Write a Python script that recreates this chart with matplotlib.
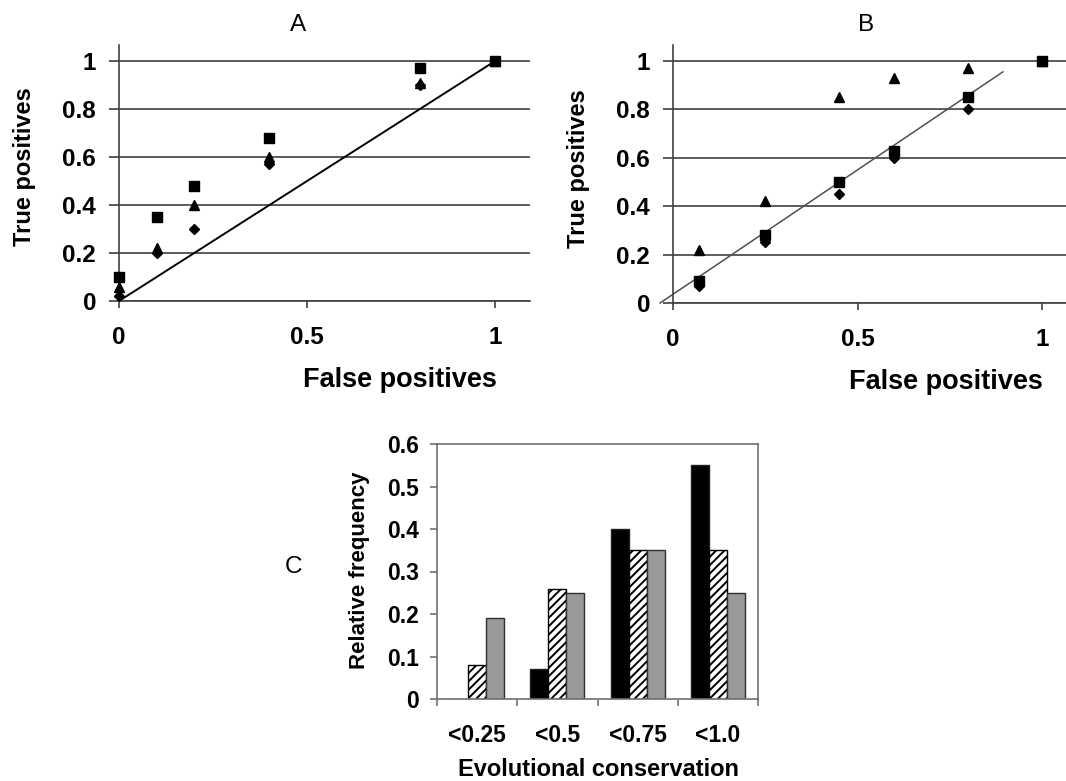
import matplotlib.pyplot as plt
from matplotlib.ticker import FixedLocator, NullFormatter

plt.rcParams['font.family'] = ['Liberation Sans', 'DejaVu Sans']
plt.rcParams['hatch.linewidth'] = 1.4

# Panel A: ROC-like points
a_fp = [0, 0.1, 0.2, 0.4, 0.8, 1.0]
a_square = [0.10, 0.35, 0.48, 0.68, 0.97, 1.0]
a_triangle = [0.06, 0.22, 0.40, 0.60, 0.91, 1.0]
a_diamond = [0.02, 0.20, 0.30, 0.57, 0.90, 1.0]
a_line_x = [0, 1]
a_line_y = [0, 1]

# Panel B
b_fp = [0.07, 0.25, 0.45, 0.60, 0.80, 1.0]
b_square = [0.09, 0.28, 0.50, 0.63, 0.85, 1.0]
b_triangle = [0.22, 0.42, 0.85, 0.93, 0.97, 1.0]
b_diamond = [0.07, 0.25, 0.45, 0.60, 0.80, 1.0]
b_trend_x = [-0.035, 0.894]
b_trend_y = [0.0, 0.955]

# Panel C: bars
c_labels = ['<0.25', '<0.5', '<0.75', '<1.0']
c_black = [0.0, 0.07, 0.40, 0.55]
c_hatched = [0.08, 0.26, 0.35, 0.35]
c_gray = [0.19, 0.25, 0.35, 0.25]

W, H = 1066, 781
fig = plt.figure(figsize=(W / 100, H / 100), dpi=100)


def box(left, top, right, bottom):
    return [left / W, 1 - bottom / H, (right - left) / W, (bottom - top) / H]


def ftext(x, y, s, **kw):
    fig.text(x / W, 1 - y / H, s, ha='center', va='center', **kw)


def roc_panel(ax, xmax, ymax, fp, sq, tri, dia):
    line_c = '#404040'
    ax.set_xlim(0, xmax)
    ax.set_ylim(0, ymax)
    for s in ['top', 'right']:
        ax.spines[s].set_visible(False)
    for s in ['left', 'bottom']:
        ax.spines[s].set_color(line_c)
        ax.spines[s].set_linewidth(1.2)
    ax.set_yticks([0, 0.2, 0.4, 0.6, 0.8, 1])
    ax.set_yticklabels(['0', '0.2', '0.4', '0.6', '0.8', '1'])
    ax.set_xticks([0, 0.5, 1])
    ax.set_xticklabels(['0', '0.5', '1'])
    ax.tick_params(axis='y', direction='out', length=7.5, width=1.2,
                   color=line_c, pad=9, labelsize=17.5)
    ax.tick_params(axis='x', direction='out', length=5, width=1.2,
                   color=line_c, pad=13, labelsize=17.5)
    for lab in ax.get_xticklabels() + ax.get_yticklabels():
        lab.set_fontweight('bold')
    ax.yaxis.grid(True, color=line_c, lw=1.2)
    ax.set_axisbelow(True)
    ax.plot(fp, dia, 'D', color='black', ms=5.5, clip_on=False, zorder=3)
    ax.plot(fp, tri, '^', color='black', ms=7, clip_on=False, zorder=3)
    ax.plot(fp, sq, 's', color='black', ms=7, clip_on=False, zorder=4)


axA = fig.add_axes(box(119, 45, 530, 301))
roc_panel(axA, 1.093, 1.067, a_fp, a_square, a_triangle, a_diamond)
axA.plot(a_line_x, a_line_y, color='black', lw=1.4, zorder=2)

axB = fig.add_axes(box(673, 45, 1066, 303))
roc_panel(axB, 1.065, 1.066, b_fp, b_square, b_triangle, b_diamond)
axB.plot(b_trend_x, b_trend_y, color='#505050', lw=1.1, zorder=2, clip_on=False)

ftext(298, 25, 'A', fontsize=17.5)
ftext(866, 25, 'B', fontsize=17.5)
ftext(400, 380, 'False positives', fontsize=19.5, fontweight='bold')
ftext(946, 382, 'False positives', fontsize=19.5, fontweight='bold')
ftext(25, 167, 'True positives', fontsize=17, fontweight='bold', rotation=90)
ftext(579, 169, 'True positives', fontsize=17, fontweight='bold', rotation=90)

# Panel C
axC = fig.add_axes(box(437, 444, 758, 699))
frame_c = '#707070'
pos = list(range(len(c_labels)))
bw = 0.225
axC.bar([p - bw for p in pos], c_black, width=bw, color='black',
        edgecolor='#202020', lw=1)
axC.bar(pos, c_hatched, width=bw, color='white', edgecolor='black',
        hatch='////', lw=1)
axC.bar([p + bw for p in pos], c_gray, width=bw, color='#999999',
        edgecolor='#303030', lw=1)
axC.set_xlim(-0.5, len(c_labels) - 0.5)
axC.set_ylim(0, 0.6)
for s in axC.spines.values():
    s.set_color(frame_c)
    s.set_linewidth(1.2)
axC.xaxis.set_major_locator(FixedLocator([p - 0.5 for p in pos] + [pos[-1] + 0.5]))
axC.xaxis.set_major_formatter(NullFormatter())
axC.xaxis.set_minor_locator(FixedLocator(pos))
axC.set_xticklabels(c_labels, minor=True)
axC.tick_params(axis='x', which='major', direction='out', length=5, width=1.2,
                color=frame_c)
axC.tick_params(axis='x', which='minor', length=0, pad=18, labelsize=16.5)
axC.set_yticks([0, 0.1, 0.2, 0.3, 0.4, 0.5, 0.6])
axC.set_yticklabels(['0', '0.1', '0.2', '0.3', '0.4', '0.5', '0.6'])
axC.tick_params(axis='y', direction='out', length=5, width=1.2,
                color=frame_c, pad=8, labelsize=16.5)
for lab in axC.get_xticklabels(minor=True) + axC.get_yticklabels():
    lab.set_fontweight('bold')

ftext(293, 567, 'C', fontsize=17.5)
ftext(360, 570, 'Relative frequency', fontsize=16, fontweight='bold', rotation=90)
ftext(598, 770, 'Evolutional conservation', fontsize=17, fontweight='bold')

fig.savefig('out.png', dpi=100)
